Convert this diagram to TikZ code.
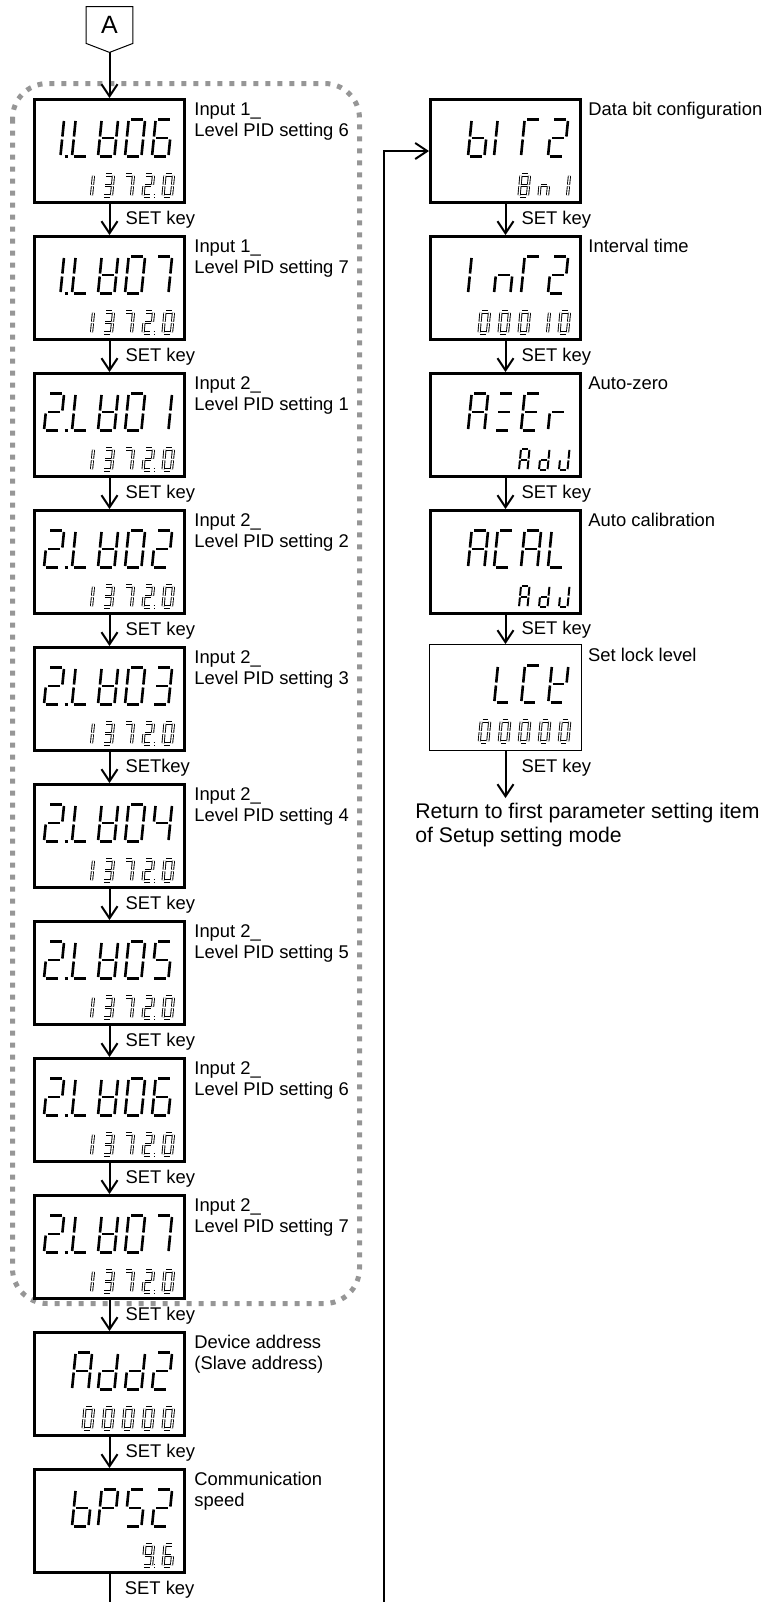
\documentclass[tikz,border=0pt]{standalone}
\usepackage{fontspec}
\setmainfont{Liberation Sans}
\usetikzlibrary{arrows.meta, positioning}
\definecolor{groupgray}{RGB}{150,150,150}

% strokes of one display digit: segments a-g and the decimal point
\newcommand\sgA{(0.15,2)--(0.85,2)}
\newcommand\sgB{(1,1.92)--(1,1.08)}
\newcommand\sgC{(1,0.92)--(1,0.08)}
\newcommand\sgD{(0.15,0)--(0.85,0)}
\newcommand\sgE{(0,0.92)--(0,0.08)}
\newcommand\sgF{(0,1.92)--(0,1.08)}
\newcommand\sgG{(0.15,1)--(0.85,1)}
\newcommand\sgP{(1.25,0)--(1.45,0)}

% lit segments per character
\newcommand\defglyph[2]{\expandafter\def\csname gl#1\endcsname{#2}}
\defglyph{0}{A,B,C,D,E,F}
\defglyph{1}{B,C}
\defglyph{1.}{B,C,P}
\defglyph{2}{A,B,D,E,G}
\defglyph{2.}{A,B,D,E,G,P}
\defglyph{3}{A,B,C,D,G}
\defglyph{4}{B,C,F,G}
\defglyph{5}{A,C,D,F,G}
\defglyph{6}{A,C,D,E,F,G}
\defglyph{7}{A,B,C}
\defglyph{8}{A,B,C,D,E,F,G}
\defglyph{9.}{A,B,C,D,F,G,P}
\defglyph{A}{A,B,C,E,F,G}
\defglyph{b}{C,D,E,F,G}
\defglyph{C}{A,D,E,F}
\defglyph{d}{B,C,D,E,G}
\defglyph{E}{A,D,E,F,G}
\defglyph{eq}{A,D,G}
\defglyph{I}{E,F}
\defglyph{J}{B,C,D,E}
\defglyph{K}{B,D,E,F,G}
\defglyph{L}{D,E,F}
\defglyph{n}{C,E,G}
\defglyph{P}{A,B,E,F,G}
\defglyph{r}{E,G}
\defglyph{T}{A,E,F}
\defglyph{V}{B,C,D,E,F,G}

\tikzset{
  segline/.style={},
  pics/seg/.style={code={%
    \edef\seglist{\csname gl#1\endcsname}%
    \foreach \s in \seglist {\edef\segpath{\csname sg\s\endcsname}\draw[segline] \segpath;}%
  }},
}
% upper and lower line of a display box: list of x-offset/character
\newcommand\showupper[2]{\foreach \p/\c in {#2}{\path ([shift={(\p,58.5)}]#1.north west) pic[topdigit]{seg=\c};}}
\newcommand\showlower[3][botdigit]{\foreach \p/\c in {#3}{\path ([shift={(\p,98)}]#2.north west) pic[#1]{seg=\c};}}

\begin{document}
\begin{tikzpicture}[
  x=0.5pt, y=-0.5pt, node distance=15.5pt,
  disp/.style={rectangle, draw, line width=1.5pt, minimum width=75pt, minimum height=51.5pt, inner sep=0pt},
  lockbox/.style={disp, line width=0.5pt, minimum width=75.75pt, minimum height=52.75pt},
  conbox/.style={minimum width=23pt, minimum height=18pt, inner sep=0pt, font=\fontsize{12.5}{14}\selectfont},
  flow/.style={-{Straight Barb[length=6pt,width=8pt]}, line width=1pt},
  keylbl/.style={anchor=west, inner sep=0pt, xshift=7.5pt, font=\fontsize{9.2}{10.5}\selectfont},
  lbl/.style={anchor=north west, inner sep=0pt, align=left, font=\fontsize{9.2}{10.5}\selectfont},
  retlbl/.style={anchor=north west, inner sep=0pt, align=left, font=\fontsize{10.6}{12}\selectfont},
  group/.style={draw=groupgray, line width=2.5pt, dash pattern=on 2.5pt off 3.5pt, rounded corners=17.5pt},
  topdigit/.style={x={(8.2pt,0pt)}, y={(0.925pt,9.25pt)}, segline/.style={line width=1.3pt}},
  botdigit/.style={x={(4.25pt,0pt)}, y={(0.5pt,5.25pt)}, segline/.style={line width=0.45pt, double, double distance=0.65pt}},
  botsolid/.style={x={(4.25pt,0pt)}, y={(0.5pt,5.25pt)}, segline/.style={line width=1pt}}
]
\path[use as bounding box] (0,0) rectangle (767,1602);
\clip (0,0) rectangle (767,1602);

% PID group
\draw[group] (12.5,83.5) rectangle (359.5,1303.5);

% connector A
\node[conbox] (conA) at (109.5,25) {A};
\draw[line width=0.5pt] (conA.north west) -- (conA.north east) -- (conA.south east)
  -- ([yshift=-4.5pt]conA.south) -- (conA.south west) -- cycle;
\coordinate (conAtip) at ([yshift=-4.5pt]conA.south);

% left column
\node[disp] (b1) at (109.5,151) {};
\node[disp, below=of b1] (b2) {};
\node[disp, below=of b2] (b3) {};
\node[disp, below=of b3] (b4) {};
\node[disp, below=of b4] (b5) {};
\node[disp, below=of b5] (b6) {};
\node[disp, below=of b6] (b7) {};
\node[disp, below=of b7] (b8) {};
\node[disp, below=of b8] (b9) {};
\node[disp, below=of b9] (b10) {};
\node[disp, below=of b10] (b11) {};

% right column
\node[disp, right=121.5pt of b1] (r1) {};
\node[disp, below=of r1] (r2) {};
\node[disp, below=of r2] (r3) {};
\node[disp, below=of r3] (r4) {};
\node[lockbox, below=14.5pt of r4] (r5) {};

% display contents
\showupper{b1}{11/1.,39/L,65/V,92/0,119/6}
\showupper{b2}{11/1.,39/L,65/V,92/0,119/7}
\showupper{b3}{11/2.,39/L,65/V,92/0,119/1}
\showupper{b4}{11/2.,39/L,65/V,92/0,119/2}
\showupper{b5}{11/2.,39/L,65/V,92/0,119/3}
\showupper{b6}{11/2.,39/L,65/V,92/0,119/4}
\showupper{b7}{11/2.,39/L,65/V,92/0,119/5}
\showupper{b8}{11/2.,39/L,65/V,92/0,119/6}
\showupper{b9}{11/2.,39/L,65/V,92/0,119/7}
\showupper{b10}{39/A,65/d,92/d,119/2}
\showupper{b11}{39/b,65/P,92/5,119/2}
\showupper{r1}{39/b,65/I,92/T,119/2}
\showupper{r2}{39/I,65/n,92/T,119/2}
\showupper{r3}{39/A,65/eq,92/E,119/r}
\showupper{r4}{39/A,65/C,92/A,119/L}
\showupper{r5}{65/L,92/C,119/K}

\showlower{b1}{50/1,70/3,90/7,110/2.,130/0}
\showlower{b2}{50/1,70/3,90/7,110/2.,130/0}
\showlower{b3}{50/1,70/3,90/7,110/2.,130/0}
\showlower{b4}{50/1,70/3,90/7,110/2.,130/0}
\showlower{b5}{50/1,70/3,90/7,110/2.,130/0}
\showlower{b6}{50/1,70/3,90/7,110/2.,130/0}
\showlower{b7}{50/1,70/3,90/7,110/2.,130/0}
\showlower{b8}{50/1,70/3,90/7,110/2.,130/0}
\showlower{b9}{50/1,70/3,90/7,110/2.,130/0}
\showlower{b10}{50/0,70/0,90/0,110/0,130/0}
\showlower{b11}{110/9.,130/6}
\showlower{r1}{90/8,110/n,130/1}
\showlower{r2}{50/0,70/0,90/0,110/1,130/0}
\showlower[botsolid]{r3}{90/A,110/d,130/J}
\showlower[botsolid]{r4}{90/A,110/d,130/J}
\showlower{r5}{50/0,70/0,90/0,110/0,130/0}

% descriptions
\node[lbl] (t1) at ([shift={(8,4)}]b1.north east) {Input 1\_\\Level PID setting 6};
\node[lbl] (t2) at ([shift={(8,4)}]b2.north east) {Input 1\_\\Level PID setting 7};
\node[lbl] (t3) at ([shift={(8,4)}]b3.north east) {Input 2\_\\Level PID setting 1};
\node[lbl] (t4) at ([shift={(8,4)}]b4.north east) {Input 2\_\\Level PID setting 2};
\node[lbl] (t5) at ([shift={(8,4)}]b5.north east) {Input 2\_\\Level PID setting 3};
\node[lbl] (t6) at ([shift={(8,4)}]b6.north east) {Input 2\_\\Level PID setting 4};
\node[lbl] (t7) at ([shift={(8,4)}]b7.north east) {Input 2\_\\Level PID setting 5};
\node[lbl] (t8) at ([shift={(8,4)}]b8.north east) {Input 2\_\\Level PID setting 6};
\node[lbl] (t9) at ([shift={(8,4)}]b9.north east) {Input 2\_\\Level PID setting 7};
\node[lbl] (t10) at ([shift={(8,4)}]b10.north east) {Device address\\(Slave address)};
\node[lbl] (t11) at ([shift={(8,4)}]b11.north east) {Communication\\speed};
\node[lbl] (u1) at ([shift={(6,4)}]r1.north east) {Data bit configuration};
\node[lbl] (u2) at ([shift={(6,4)}]r2.north east) {Interval time};
\node[lbl] (u3) at ([shift={(6,4)}]r3.north east) {Auto-zero};
\node[lbl] (u4) at ([shift={(6,4)}]r4.north east) {Auto calibration};
\node[lbl] (u5) at ([shift={(6,4)}]r5.north east) {Set lock level};
\node[retlbl] (ret) at (415,803) {Return to first parameter setting item\\of Setup setting mode};

% flow
\draw[flow] (conAtip) -- (b1);
\draw[flow] (b1) -- node[keylbl] {SET key} (b2);
\draw[flow] (b2) -- node[keylbl] {SET key} (b3);
\draw[flow] (b3) -- node[keylbl] {SET key} (b4);
\draw[flow] (b4) -- node[keylbl] {SET key} (b5);
\draw[flow] (b5) -- node[keylbl] {SETkey} (b6);
\draw[flow] (b6) -- node[keylbl] {SET key} (b7);
\draw[flow] (b7) -- node[keylbl] {SET key} (b8);
\draw[flow] (b8) -- node[keylbl] {SET key} (b9);
\draw[flow] (b9) -- node[keylbl] {SET key} (b10);
\draw[flow] (b10) -- node[keylbl] {SET key} (b11);
\node[keylbl, yshift=-8pt] (k11) at (b11.south) {SET key};
\coordinate (loopL) at (109.5,1640);
\coordinate (loopR) at (383.5,1640);
\draw[flow] (b11) -- (loopL) -- (loopR) |- (r1);
\draw[flow] (r1) -- node[keylbl] {SET key} (r2);
\draw[flow] (r2) -- node[keylbl] {SET key} (r3);
\draw[flow] (r3) -- node[keylbl] {SET key} (r4);
\draw[flow] (r4) -- node[keylbl] {SET key} (r5);
\draw[flow, shorten >=2.5pt] (r5) -- node[keylbl, pos=0.33] {SET key} (r5.south |- ret.north);
\end{tikzpicture}
\end{document}
